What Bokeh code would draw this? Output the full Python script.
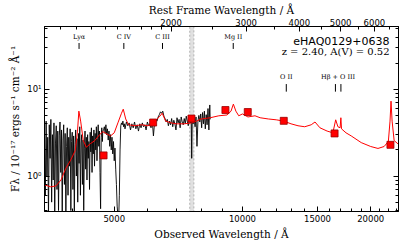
from bokeh.plotting import figure
from bokeh.models import Range1d, LogScale, LogAxis, FixedTicker, BoxAnnotation
from bokeh.core.properties import value
from bokeh.embed import file_html
from bokeh.resources import INLINE

Z = 2.40
AV = 0.52
NAME = "eHAQ0129+0638"

X_MIN, X_MAX = 3430, 23240
Y_MIN, Y_MAX = 0.39, 53.0

# observed spectrum (black)
spec_wl = [3430, 3445, 3460, 3475, 3490, 3505, 3520, 3535, 3550, 3565,
           3580, 3595, 3610, 3625, 3640, 3655, 3670, 3685, 3700, 3715,
           3730, 3745, 3760, 3775, 3790, 3805, 3820, 3835, 3850, 3865,
           3880, 3895, 3910, 3925, 3940, 3955, 3970, 3985, 4000, 4015,
           4030, 4045, 4060, 4075, 4090, 4105, 4120, 4135, 4150, 4165,
           4180, 4195, 4210, 4225, 4240, 4255, 4270, 4285, 4300, 4315,
           4330, 4345, 4360, 4375, 4390, 4405, 4420, 4435, 4450, 4465,
           4480, 4495, 4510, 4525, 4540, 4555, 4570, 4585, 4600, 4615,
           4630, 4645, 4660, 4675, 4690,
           4700, 4720, 4740, 4760, 4780, 4800, 4820,
           4840, 4860, 4880, 4900, 4920, 4940, 4960, 4980, 5000, 5020, 5040, 5060, 5080, 5100,
           5120, 5140, 5160, 5180, 5200, 5220, 5240, 5260, 5280, 5300, 5340, 5380, 5420, 5460,
           5500, 5540, 5580, 5620, 5660, 5700, 5740, 5780, 5820, 5860, 5900, 5940, 5980, 6020,
           6060, 6100, 6140, 6180, 6220, 6260, 6300, 6340, 6380, 6420, 6460, 6500, 6540, 6580,
           6620, 6660, 6700, 6740, 6780, 6820, 6860, 6900, 6940, 6980, 7020, 7060, 7100, 7140,
           7180, 7220, 7260, 7300, 7340, 7380, 7420, 7460, 7500, 7540, 7580, 7600, 7620, 7660,
           7700, 7740, 7780, 7820, 7860, 7900, 7940, 7980, 8020, 8060, 8100, 8140, 8180, 8220,
           8260, 8300, 8340, 8380, 8400]
spec_flux = [3.5, 0.6, 4.3, 1.0, 2.8, 0.35, 3.9, 1.6, 4.5, 0.5,
             3.0, 0.9, 4.1, 0.3, 2.4, 3.8, 0.7, 3.3, 0.4, 2.9,
             4.2, 1.1, 3.4, 0.35, 2.6, 3.9, 0.8, 3.1, 0.3, 2.2,
             3.6, 0.6, 2.8, 1.3, 3.5, 0.4, 2.5, 3.2, 0.7, 2.9,
             0.35, 2.3, 3.4, 1.0, 2.7, 0.5, 3.1, 1.4, 3.7, 0.6,
             2.4, 3.0, 0.8, 2.6, 0.4, 2.1, 3.3, 1.2, 2.8, 0.9,
             3.0, 1.6, 2.5, 0.7, 3.2, 1.9, 3.6, 1.1, 2.9, 1.8,
             3.4, 1.3, 3.1, 2.0, 3.7, 1.5, 2.7, 3.9, 2.2, 3.3,
             1.1, 0.42, 2.8, 3.6, 2.5,
             3.3, 3.4, 3.7, 3.1, 3.9, 3.0, 3.5,
             2.6, 3.3, 2.2, 3.0, 2.0, 2.8, 1.8, 2.5, 1.5, 2.1, 1.2, 0.8, 0.45, 0.35,
             0.3, 0.6, 2.0, 3.8, 4.1, 3.9, 4.3, 3.7, 4.0, 3.5, 4.2, 3.8, 4.1, 3.4,
             4.0, 3.6, 4.2, 3.5, 3.9, 3.3, 4.0, 3.6, 4.1, 3.7, 3.9, 3.4, 4.2, 3.8,
             4.0, 3.6, 4.4, 2.9, 4.2, 4.5, 4.3, 4.8, 5.1, 5.5, 5.3, 5.6, 4.9, 4.6,
             4.2, 4.5, 3.8, 4.3, 3.9, 4.6, 3.7, 4.4, 4.0, 3.4, 4.7, 4.1, 4.5, 3.6,
             4.8, 4.2, 3.9, 4.6, 4.0, 4.9, 4.3, 3.8, 4.5, 4.1, 4.7, 1.6, 4.4, 4.0,
             4.6, 3.7, 4.8, 2.2, 4.3, 5.0, 4.2, 5.2, 3.6, 5.4, 4.0, 5.6, 3.5, 5.1,
             3.9, 6.0, 3.4, 6.6, 4.5]

# reddened quasar model (red)
model_wl = [3430, 3550, 3650, 3750, 3850, 3950, 4050, 4100, 4130, 4170, 4230, 4300, 4400, 4500,
            4620, 4700, 4780, 4900, 5000, 5100, 5200, 5250, 5320, 5400, 5600, 5800, 6000, 6200,
            6400, 6480, 6600, 6800, 7000, 7300, 7600, 7800, 8000, 8400, 8800, 9200, 9400, 9520,
            9650, 9800, 10000, 10300, 10700, 11000, 11500, 12000, 12500, 13000, 13500, 14000,
            14500, 14800, 15200, 15800, 16300, 16550, 16750, 16950, 17020, 17080, 17500, 18000,
            19000, 20000, 20800, 21500, 22000, 22200, 22320, 22450, 22700, 23300]
model_flux = [0.79, 0.75, 0.77, 0.9, 1.23, 1.52, 1.97, 3.3, 5.6, 4.3, 2.56, 2.15, 2.37, 2.56,
              3.0, 3.25, 3.1, 2.9, 3.15, 4.1, 5.3, 5.9, 4.55, 3.9, 3.8, 3.9, 3.8, 4.2,
              4.9, 5.3, 4.3, 4.1, 4.0, 4.0, 4.1, 4.3, 4.55, 4.7, 4.95, 5.06, 5.6, 6.75,
              5.6, 4.95, 5.2, 4.8, 4.95, 4.7, 4.55, 4.45, 4.3, 4.0, 3.8, 3.7,
              3.9, 4.2, 3.6, 3.3, 3.15, 4.45, 3.7, 3.6, 4.7, 3.5, 3.15, 2.9,
              2.43, 2.19, 2.08, 2.19, 2.5, 4.3, 7.3, 4.3, 2.56, 2.3]

# photometry (red squares)
phot_wl = [4720, 6170, 7590, 9120, 10290, 12500, 16450, 22250]
phot_flux = [1.73, 4.14, 4.6, 5.77, 5.47, 4.33, 3.1, 2.29]

# emission line markers
line_names_top = ["Ly\u03b1", "C IV", "C III", "Mg II"]
line_rest_top = [1216, 1549, 1909, 2798]
line_names_low = ["O II", "H\u03b2 + O III"]
line_label_rest_low = [3727, 4930]
line_rest_low = [3727, 4861, 5007]

# masked telluric band
band_lo, band_hi = 7520, 7690

bottom_ticks = [5000, 10000, 15000, 20000]
bottom_minor = [4000, 6000, 7000, 8000, 9000, 11000, 12000, 13000, 14000, 16000, 17000,
                18000, 19000, 21000, 22000, 23000]
top_ticks = [2000, 3000, 4000, 5000, 6000]
top_minor = [1100, 1200, 1300, 1400, 1500, 1600, 1700, 1800, 1900, 2500, 3500, 4500, 5500, 6500]
y_ticks = [1, 10]
y_minor = [0.4, 0.5, 0.6, 0.7, 0.8, 0.9, 2, 3, 4, 5, 6, 7, 8, 9, 20, 30, 40, 50]

SERIF = "DejaVu Serif"
SANS = "DejaVu Sans"

p = figure(width=407, height=242, x_axis_type="log", y_axis_type="log",
           x_range=Range1d(X_MIN, X_MAX), y_range=Range1d(Y_MIN, Y_MAX),
           output_backend="svg", toolbar_location=None,
           min_border_left=44, min_border_right=9, min_border_top=24, min_border_bottom=30)
p.grid.visible = False
p.outline_line_color = "black"
p.background_fill_color = "white"
p.border_fill_color = "white"

p.extra_x_ranges = {"rest": Range1d(X_MIN / (1 + Z), X_MAX / (1 + Z))}
p.extra_x_scales = {"rest": LogScale()}


def style(ax, tick_font="8.5px"):
    ax.major_tick_in = 5
    ax.major_tick_out = 0
    ax.minor_tick_in = 3
    ax.minor_tick_out = 0
    ax.axis_line_color = "black"
    ax.major_tick_line_color = "black"
    ax.minor_tick_line_color = "black"
    ax.major_label_text_font = SANS
    ax.major_label_text_font_size = tick_font
    ax.major_label_text_color = "black"
    ax.axis_label_text_font = SERIF
    ax.axis_label_text_font_style = "normal"
    ax.axis_label_text_font_size = "10.5px"
    ax.axis_label_text_color = "black"
    ax.major_label_standoff = 3
    ax.axis_label_standoff = 3


xb = p.xaxis[0]
xb.ticker = FixedTicker(ticks=bottom_ticks, minor_ticks=bottom_minor)
xb.major_label_overrides = {t: str(t) for t in bottom_ticks}
xb.axis_label = "Observed Wavelength / \u00c5"
style(xb)

yl = p.yaxis[0]
yl.ticker = FixedTicker(ticks=y_ticks, minor_ticks=y_minor)
yl.major_label_overrides = {1: "10\u2070", 10: "10\u00b9"}
yl.axis_label = "F\u03bb / 10\u207b\u00b9\u2077 ergs s\u207b\u00b9 cm\u207b\u00b2 \u00c5\u207b\u00b9"
style(yl)

xt = LogAxis(x_range_name="rest", ticker=FixedTicker(ticks=top_ticks, minor_ticks=top_minor),
             axis_label="Rest Frame Wavelength / \u00c5")
xt.major_label_overrides = {t: str(t) for t in top_ticks}
style(xt)
xt.major_label_standoff = 1
xt.axis_label_standoff = 0
p.add_layout(xt, "above")

yr = LogAxis(ticker=FixedTicker(ticks=y_ticks, minor_ticks=y_minor))
style(yr)
yr.major_label_text_font_size = "0px"
yr.major_label_standoff = 0
yr.major_label_overrides = {1: "", 10: ""}
p.add_layout(yr, "right")

band = BoxAnnotation(left=band_lo, right=band_hi, fill_color="#cccccc", fill_alpha=0.6,
                     line_color="#999999", line_alpha=0.7, line_dash="2 2", level="underlay")
p.add_layout(band)

p.line(spec_wl, spec_flux, color="black", line_width=0.9)
p.line(model_wl, model_flux, color="red", line_width=1)
p.scatter(phot_wl, phot_flux, marker="square", size=7, fill_color="red",
          line_color="#990000", line_width=0.8)

# line markers
top_x = [r * (1 + Z) for r in line_rest_top]
p.text(top_x, [40.5] * len(top_x), text=line_names_top, text_font=value(SERIF),
       text_font_size="6.5px", text_align="center", text_baseline="middle", text_color="black")
p.segment(top_x, [34.2] * len(top_x), top_x, [29.2] * len(top_x), line_color="black", line_width=1)

low_lab_x = [r * (1 + Z) for r in line_label_rest_low]
p.text(low_lab_x, [13.9] * len(low_lab_x), text=line_names_low, text_font=value(SERIF),
       text_font_size="6.5px", text_align="center", text_baseline="middle", text_color="black")
low_x = [r * (1 + Z) for r in line_rest_low]
p.segment(low_x, [11.5] * len(low_x), low_x, [9.4] * len(low_x), line_color="black", line_width=1)

# annotation
p.text([22140], [35.6], text=[NAME], text_font=value(SANS), text_font_size="11px",
       text_align="right", text_baseline="middle", text_color="black")
p.text([22140], [27.4], text=["z = %.2f, A(V) = %.2f" % (Z, AV)], text_font=value(SERIF),
       text_font_size="10px", text_align="right", text_baseline="middle", text_color="black")

open("out.html", "w").write(file_html(p, INLINE))
